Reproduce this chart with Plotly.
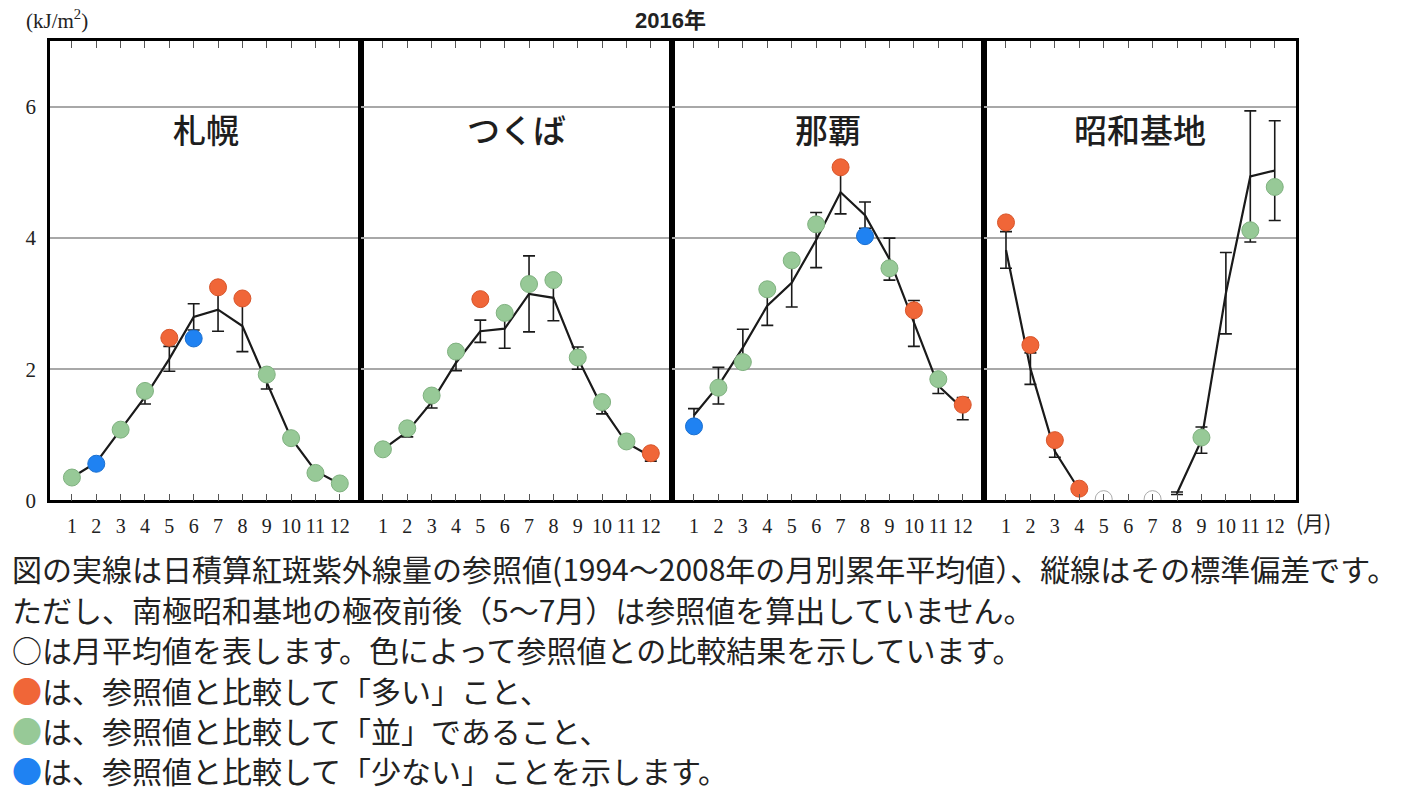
import plotly.graph_objects as go

# ---------------- data ----------------
months = [1, 2, 3, 4, 5, 6, 7, 8, 9, 10, 11, 12]
month_labels = ["1", "2", "3", "4", "5", "6", "7", "8", "9", "10", "11", "12"]
stations = ["札幌", "つくば", "那覇", "昭和基地"]

# reference values (1994-2008 monthly climatology) and standard deviation
sapporo_ref = [0.35, 0.58, 1.08, 1.58, 2.16, 2.80, 2.91, 2.66, 1.80, 0.95, 0.45, 0.25]
sapporo_sd = [0.03, 0.05, 0.06, 0.11, 0.19, 0.20, 0.33, 0.39, 0.10, 0.06, 0.04, 0.03]
sapporo_obs = [0.35, 0.56, 1.08, 1.67, 2.48, 2.47, 3.25, 3.08, 1.92, 0.95, 0.42, 0.26]
sapporo_cat = ["g", "b", "g", "g", "o", "b", "o", "o", "g", "g", "g", "g"]

tsukuba_ref = [0.78, 1.05, 1.50, 2.10, 2.58, 2.62, 3.15, 3.09, 2.17, 1.42, 0.88, 0.67]
tsukuba_sd = [0.04, 0.08, 0.09, 0.12, 0.17, 0.30, 0.58, 0.35, 0.17, 0.10, 0.05, 0.07]
tsukuba_obs = [0.78, 1.10, 1.60, 2.27, 3.07, 2.86, 3.30, 3.36, 2.18, 1.50, 0.90, 0.72]
tsukuba_cat = ["g", "g", "g", "g", "o", "g", "g", "g", "g", "g", "g", "o"]

naha_ref = [1.30, 1.75, 2.33, 2.97, 3.32, 3.97, 4.70, 4.35, 3.68, 2.70, 1.75, 1.40]
naha_sd = [0.10, 0.28, 0.28, 0.30, 0.37, 0.42, 0.33, 0.20, 0.32, 0.35, 0.12, 0.17]
naha_obs = [1.13, 1.72, 2.11, 3.22, 3.66, 4.21, 5.08, 4.03, 3.54, 2.90, 1.85, 1.46]
naha_cat = ["b", "g", "g", "g", "g", "g", "o", "b", "g", "o", "g", "o"]

syowa_ref = [3.82, 2.01, 0.75, 0.16, None, None, None, 0.11, 0.92, 3.16, 4.94, 5.03]
syowa_sd = [0.28, 0.24, 0.09, 0.03, None, None, None, 0.02, 0.20, 0.62, 1.00, 0.76]
syowa_obs = [4.24, 2.37, 0.92, 0.18, 0.02, None, 0.02, None, 0.96, None, 4.12, 4.78]
syowa_cat = ["o", "o", "o", "o", "w", "w", "w", "w", "g", "g", "g", "g"]

refs = [sapporo_ref, tsukuba_ref, naha_ref, syowa_ref]
sds = [sapporo_sd, tsukuba_sd, naha_sd, syowa_sd]
obss = [sapporo_obs, tsukuba_obs, naha_obs, syowa_obs]
cats = [sapporo_cat, tsukuba_cat, naha_cat, syowa_cat]

fill = {"o": "#F06638", "g": "#97C997", "b": "#1F82F2", "w": "#FFFFFF"}
edge = {"o": "#D8552A", "g": "#7FB17F", "b": "#1A6FD0", "w": "#AAAAAA"}

# ---------------- layout geometry ----------------
W, H = 1424, 810
edges_px = [50, 361, 672, 984, 1296]
top_px, bot_px = 42, 508
ydom = [(H - bot_px) / H, (H - top_px) / H]
xrange_ = [0.1, 12.87]

fig = go.Figure()
layout = dict(
    width=W, height=H,
    margin=dict(l=0, r=0, t=0, b=0),
    paper_bgcolor="white", plot_bgcolor="white",
    showlegend=False,
)

serif = "Liberation Serif, DejaVu Serif, serif"
cjk = "Noto Sans CJK JP, sans-serif"

for i in range(4):
    xa = "x" if i == 0 else f"x{i+1}"
    ya = "y" if i == 0 else f"y{i+1}"
    xkey = "xaxis" if i == 0 else f"xaxis{i+1}"
    ykey = "yaxis" if i == 0 else f"yaxis{i+1}"
    layout[xkey] = dict(
        domain=[edges_px[i] / W, edges_px[i + 1] / W],
        range=xrange_, anchor=ya,
        tickmode="array", tickvals=months, ticktext=month_labels,
        ticks="inside", ticklen=7, tickwidth=1.3, tickcolor="#555",
        ticklabelstandoff=6,
        mirror="allticks", showline=True, linecolor="black", linewidth=2.5,
        showgrid=False, zeroline=False,
        tickfont=dict(family=serif, size=20, color="#222"),
        fixedrange=True,
    )
    layout[ykey] = dict(
        domain=ydom, range=[0, 7], anchor=xa,
        tickmode="array", tickvals=[0, 2, 4, 6],
        showticklabels=(i == 0), ticks="",
        ticklabelstandoff=7,
        showline=True, mirror=True, linecolor="black", linewidth=2.5,
        showgrid=True, gridcolor="#A8A8A8", gridwidth=1.5, zeroline=False,
        tickfont=dict(family=serif, size=21, color="#222"),
        fixedrange=True,
    )

    # reference line with standard deviation bars
    fig.add_trace(go.Scatter(
        x=months, y=refs[i], mode="lines", xaxis=xa, yaxis=ya,
        line=dict(color="#1a1a1a", width=2.2), connectgaps=False,
        error_y=dict(type="data", array=sds[i], visible=True,
                     color="#1a1a1a", thickness=1.6, width=6),
        hoverinfo="skip",
    ))
    # observed monthly means
    xs = [m for m, v in zip(months, obss[i]) if v is not None]
    ys = [v for v in obss[i] if v is not None]
    cs = [c for c, v in zip(cats[i], obss[i]) if v is not None]
    fig.add_trace(go.Scatter(
        x=xs, y=ys, mode="markers", xaxis=xa, yaxis=ya,
        marker=dict(size=17, color=[fill[c] for c in cs],
                    line=dict(color=[edge[c] for c in cs], width=1)),
        hoverinfo="skip",
    ))

annotations = []
# panel titles
for i, name in enumerate(stations):
    cx = (edges_px[i] + edges_px[i + 1]) / 2
    annotations.append(dict(
        x=cx / W, y=(H - 131) / H, xref="paper", yref="paper",
        text=name, showarrow=False, xanchor="center", yanchor="middle",
        font=dict(family=cjk, size=33, color="#1e1e1e", weight=500),
    ))

annotations += [
    dict(x=57 / W, y=(H - 20) / H, xref="paper", yref="paper",
         text="(kJ/m<sup>2</sup>)", showarrow=False,
         xanchor="center", yanchor="middle",
         font=dict(family=serif, size=21, color="#222")),
    dict(x=670 / W, y=(H - 21) / H, xref="paper", yref="paper",
         text="<b>2016年</b>", showarrow=False,
         xanchor="center", yanchor="middle",
         font=dict(family="Liberation Sans, Noto Sans CJK JP, sans-serif", size=22, color="#222")),
    dict(x=1294 / W, y=(H - 530) / H, xref="paper", yref="paper",
         text="(月)", showarrow=False, xanchor="left", yanchor="middle",
         font=dict(family=cjk, size=21, color="#222")),
]

notes = [
    "図の実線は日積算紅斑紫外線量の参照値(1994〜2008年の月別累年平均値）、縦線はその標準偏差です。",
    "ただし、南極昭和基地の極夜前後（5〜7月）は参照値を算出していません。",
    "○は月平均値を表します。色によって参照値との比較結果を示しています。",
    '<span style="color:#F06638">●</span>は、参照値と比較して「多い」こと、',
    '<span style="color:#97C997">●</span>は、参照値と比較して「並」であること、',
    '<span style="color:#1F82F2">●</span>は、参照値と比較して「少ない」ことを示します。',
]
note_y = [577, 618, 659, 700, 741, 782]
for t, yy in zip(notes, note_y):
    annotations.append(dict(
        x=10 / W, y=(H - yy) / H, xref="paper", yref="paper",
        text=t, showarrow=False, xanchor="left", yanchor="middle",
        font=dict(family=cjk, size=30, color="#222"),
    ))

layout["annotations"] = annotations
fig.update_layout(**layout)
fig.write_html("out.html")
